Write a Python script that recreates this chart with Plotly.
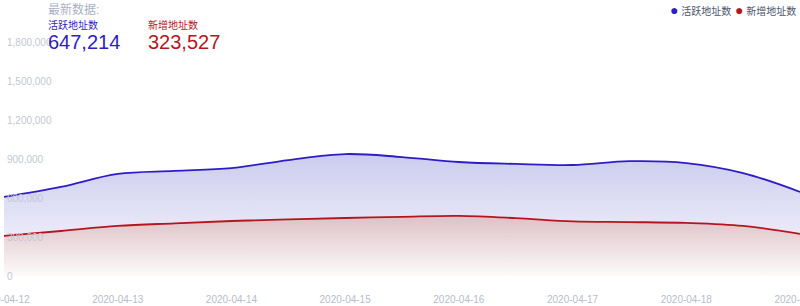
import plotly.graph_objects as go

times = ["2020-04-12 00:00", "2020-04-12 12:00", "2020-04-13 00:00", "2020-04-13 12:00",
         "2020-04-14 00:00", "2020-04-14 12:00", "2020-04-15 00:00", "2020-04-15 12:00",
         "2020-04-16 00:00", "2020-04-16 12:00", "2020-04-17 00:00", "2020-04-17 12:00",
         "2020-04-18 00:00", "2020-04-18 12:00", "2020-04-19 00:00"]
active = [608000, 685000, 785000, 808000, 830000, 892000, 938000, 915000,
          877000, 862000, 854000, 883000, 869000, 792000, 647214]
new = [308000, 346000, 385000, 405000, 423000, 435000, 446000, 455000,
       462000, 445000, 420000, 415000, 408000, 385000, 323527]
names = ["活跃地址数", "新增地址数"]
latest_title = "最新数据:"
ytick_vals = [0, 300000, 600000, 900000, 1200000, 1500000, 1800000]

BLUE = "#2f1cc6"
RED = "#b5161d"
FONT = "Liberation Sans, Noto Sans CJK SC, sans-serif"
ML, MT, PW, PH = 4, 42, 796, 234

fig = go.Figure()
fig.add_trace(go.Scatter(
    x=times, y=active, mode="lines", name=names[0],
    line=dict(color=BLUE, width=1.8, shape="spline"),
    fill="tozeroy",
    fillgradient=dict(type="vertical", start=0, stop=950000,
                      colorscale=[[0, "rgb(250,250,254)"], [1, "rgb(203,203,238)"]]),
    showlegend=False, hoverinfo="skip"))
fig.add_trace(go.Scatter(
    x=times, y=new, mode="lines", name=names[1],
    line=dict(color=RED, width=1.8, shape="spline"),
    fill="tozeroy",
    fillgradient=dict(type="vertical", start=0, stop=470000,
                      colorscale=[[0, "rgb(253,250,250)"], [1, "rgb(221,192,198)"]]),
    showlegend=False, hoverinfo="skip"))


def px(xpix, ypix):
    return (xpix - ML) / PW, 1 + (MT - ypix) / PH


annos = [
    dict(text=latest_title, x=46, y=9, size=12, color="#a9b0c6"),
    dict(text=names[0], x=46, y=25, size=10, color=BLUE),
    dict(text=f"{active[-1]:,}", x=46, y=42, size=20, color=BLUE),
    dict(text=names[1], x=146, y=25, size=10, color=RED),
    dict(text=f"{new[-1]:,}", x=146, y=42, size=20, color=RED),
]
ann_list = []
for a in annos:
    ax, ay = px(a["x"], a["y"])
    ann_list.append(dict(x=ax, y=ay, xref="paper", yref="paper", text=a["text"],
                         showarrow=False, xanchor="left", yanchor="middle",
                         font=dict(size=a["size"], color=a["color"], family=FONT)))

# legend (dot + label), right-aligned at top
leg = [(names[0], BLUE, 733), (names[1], RED, 798)]
for nm, col, rx in leg:
    ax, ay = px(rx, 10)
    ann_list.append(dict(x=ax, y=ay, xref="paper", yref="paper",
                         text=f"<span style='color:{col};font-size:14px'>●</span> {nm}",
                         showarrow=False, xanchor="right", yanchor="middle",
                         font=dict(size=10, color="#4d566b", family=FONT)))

fig.update_layout(
    width=800, height=306, margin=dict(l=ML, r=0, t=MT, b=30, autoexpand=False),
    paper_bgcolor="white", plot_bgcolor="white",
    font=dict(family=FONT),
    showlegend=False,
    xaxis=dict(type="date", range=["2020-04-12", "2020-04-19"], dtick=86400000,
               tickformat="%Y-%m-%d", showgrid=False, zeroline=False, showline=False,
               ticks="", tickfont=dict(size=10, color="#b7bccb", family=FONT),
               ticklabeloverflow="allow", automargin=False, ticklabelstandoff=16),
    yaxis=dict(range=[0, 1800000], tickvals=ytick_vals, tickformat=",d",
               showgrid=False, zeroline=False, showline=False, ticks="",
               ticklabelposition="inside", ticklabeloverflow="allow", automargin=False,
               tickfont=dict(size=10, color="#c3c7d3", family=FONT)),
    annotations=ann_list,
)

fig.write_html("out.html")
